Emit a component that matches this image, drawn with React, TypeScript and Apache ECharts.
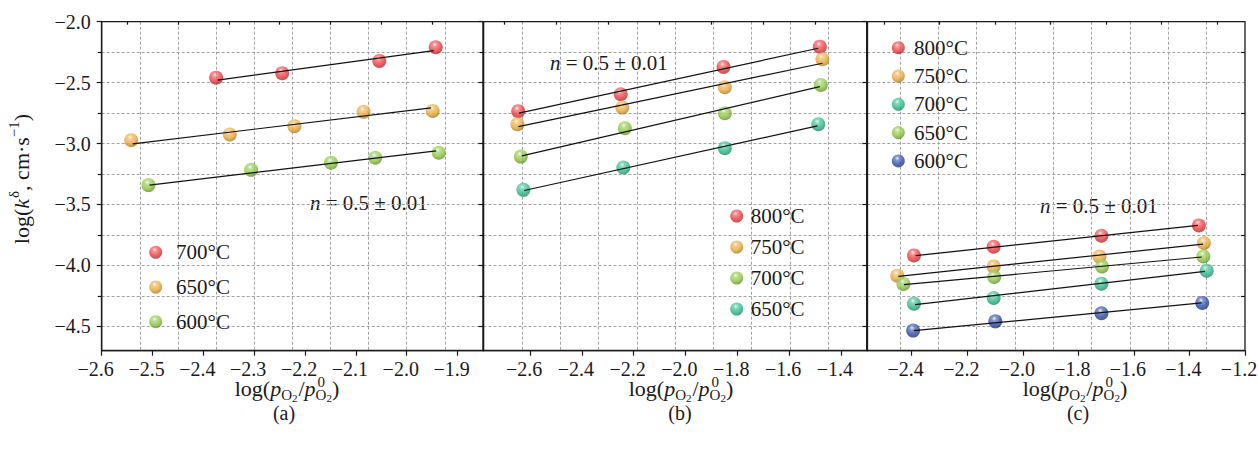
import React, { useEffect, useRef } from 'react';
import * as echarts from 'echarts';

const FONT = 'Liberation Serif, Times New Roman, Times, serif';
const INK = '#1a1a1a';
const GRIDC = '#a3a3a3';

const RED = '#ee3a3e';
const ORANGE = '#eaa838';
const LIME = '#8cc641';
const TEAL = '#2cb98b';
const BLUE = '#2a4ba6';

// ---- tick values ----
const Y_TICKS = [-4.5, -4.0, -3.5, -3.0, -2.5, -2.0];
const Y_MINOR = [-4.25, -3.75, -3.25, -2.75, -2.25];
const XA_TICKS = [-2.6, -2.5, -2.4, -2.3, -2.2, -2.1, -2.0, -1.9];
const XA_MINOR = [-2.55, -2.45, -2.35, -2.25, -2.15, -2.05, -1.95];
const XB_TICKS = [-2.6, -2.4, -2.2, -2.0, -1.8, -1.6, -1.4];
const XB_MINOR = [-2.7, -2.5, -2.3, -2.1, -1.9, -1.7, -1.5];
const XC_TICKS = [-2.4, -2.2, -2.0, -1.8, -1.6, -1.4, -1.2];
const XC_MINOR = [-2.5, -2.3, -2.1, -1.9, -1.7, -1.5, -1.3];

// ---- panel (a) ----
const A_LABELS = ['700°C', '650°C', '600°C'];
const A_700 = [[-2.375, -2.459], [-2.245, -2.423], [-2.054, -2.322], [-1.943, -2.21]];
const A_700_FIT = [[-2.372, -2.48], [-1.947, -2.238]];
const A_650 = [[-2.542, -2.972], [-2.348, -2.926], [-2.221, -2.857], [-2.085, -2.74], [-1.949, -2.732]];
const A_650_FIT = [[-2.539, -3.003], [-1.952, -2.707]];
const A_600 = [[-2.508, -3.341], [-2.306, -3.216], [-2.149, -3.158], [-2.062, -3.117], [-1.937, -3.076]];
const A_600_FIT = [[-2.506, -3.341], [-1.942, -3.06]];

// ---- panel (b) ----
const B_LABELS = ['800°C', '750°C', '700°C', '650°C'];
const B_800 = [[-2.646, -2.734], [-2.25, -2.595], [-1.853, -2.371], [-1.481, -2.205]];
const B_800_FIT = [[-2.643, -2.751], [-1.487, -2.218]];
const B_750 = [[-2.649, -2.841], [-2.244, -2.705], [-1.848, -2.538], [-1.471, -2.308]];
const B_750_FIT = [[-2.645, -2.861], [-1.471, -2.341]];
const B_700 = [[-2.636, -3.107], [-2.234, -2.874], [-1.848, -2.751], [-1.477, -2.519]];
const B_700_FIT = [[-2.632, -3.101], [-1.481, -2.533]];
const B_650 = [[-2.626, -3.38], [-2.24, -3.197], [-1.848, -3.038], [-1.487, -2.841]];
const B_650_FIT = [[-2.623, -3.385], [-1.49, -2.855]];

// ---- panel (c) ----
const C_LABELS = ['800°C', '750°C', '700°C', '650°C', '600°C'];
const C_800 = [[-2.392, -3.918], [-2.105, -3.847], [-1.717, -3.757], [-1.366, -3.672]];
const C_800_FIT = [[-2.386, -3.92], [-1.369, -3.672]];
const C_750 = [[-2.452, -4.084], [-2.105, -4.008], [-1.724, -3.926], [-1.348, -3.816]];
const C_750_FIT = [[-2.448, -4.09], [-1.351, -3.825]];
const C_700 = [[-2.392, -4.314], [-2.105, -4.267], [-1.717, -4.15], [-1.338, -4.043]];
const C_700_FIT = [[-2.388, -4.322], [-1.344, -4.049]];
const C_650 = [[-2.43, -4.152], [-2.103, -4.095], [-1.715, -4.008], [-1.35, -3.926]];
const C_650_FIT = [[-2.428, -4.158], [-1.356, -3.931]];
const C_600 = [[-2.395, -4.535], [-2.099, -4.459], [-1.717, -4.393], [-1.354, -4.308]];
const C_600_FIT = [[-2.392, -4.535], [-1.356, -4.308]];

const N_TEXT = '0.5 ± 0.01';

function shade(hex: string, amt: number) {
  const n = parseInt(hex.slice(1), 16);
  const c = [(n >> 16) & 255, (n >> 8) & 255, n & 255].map((v) =>
    Math.round(amt >= 0 ? v + (255 - v) * amt : v * (1 + amt))
  );
  return 'rgb(' + c.join(',') + ')';
}
function sphere(color: string) {
  return new echarts.graphic.RadialGradient(0.42, 0.3, 0.72, [
    { offset: 0, color: shade(color, 0.9) },
    { offset: 0.22, color: shade(color, 0.3) },
    { offset: 0.6, color: color },
    { offset: 1, color: shade(color, -0.3) },
  ]);
}

let _ctx: CanvasRenderingContext2D | null = null;
function textW(t: string, s: number, it?: boolean) {
  if (!_ctx) _ctx = document.createElement('canvas').getContext('2d');
  _ctx!.font = (it ? 'italic ' : '') + s + 'px ' + FONT;
  return _ctx!.measureText(t).width;
}
type Tok = { t: string; s: number; i?: boolean; dy?: number; stack?: boolean; dx?: number };
function tokenRow(tokens: Tok[]) {
  let x = 0;
  const kids: any[] = [];
  for (const k of tokens) {
    kids.push({
      type: 'text',
      x: x + (k.dx || 0),
      y: (k.dy || 0) - 0.34 * k.s,
      silent: true,
      style: {
        text: k.t,
        fontSize: k.s,
        fontFamily: FONT,
        fontStyle: k.i ? 'italic' : 'normal',
        fill: INK,
        align: 'left',
        verticalAlign: 'middle',
        lineHeight: Math.round(k.s * 0.75),
      },
    });
    if (!k.stack) x += textW(k.t, k.s, k.i) + (k.dx || 0);
  }
  return { kids, w: x };
}

const fmt = (v: number) => {
  const s = Math.abs(v).toFixed(1);
  return (v < -1e-9 ? '\u2212' : '') + s;
};

export default function App() {
  const ref = useRef<HTMLDivElement>(null);
  useEffect(() => {
    if (!ref.current) return;
    const chart = echarts.init(ref.current, null, { renderer: 'svg' });

    const PANELS = [
      {
        left: 101.7, width: 381.3, xMin: -2.6, xMax: -1.85, ticks: XA_TICKS, minor: XA_MINOR,
        gMax: 10, gInv: false,
        sets: [
          { name: 'a0', label: A_LABELS[0], color: RED, pts: A_700, fit: A_700_FIT },
          { name: 'a1', label: A_LABELS[1], color: ORANGE, pts: A_650, fit: A_650_FIT },
          { name: 'a2', label: A_LABELS[2], color: LIME, pts: A_600, fit: A_600_FIT },
        ],
        lg: { left: 149.2, top: 241.8, pad: 8.8, gap: 13.7 },
        nPos: [310, 210], nameCx: 287, tag: '(a)', tagCx: 284,
      },
      {
        left: 483.5, width: 383.2, xMin: -2.78, xMax: -1.3, ticks: XB_TICKS, minor: XB_MINOR,
        gMax: 10, gInv: false,
        sets: [
          { name: 'b0', label: B_LABELS[0], color: RED, pts: B_800, fit: B_800_FIT },
          { name: 'b1', label: B_LABELS[1], color: ORANGE, pts: B_750, fit: B_750_FIT },
          { name: 'b2', label: B_LABELS[2], color: LIME, pts: B_700, fit: B_700_FIT },
          { name: 'b3', label: B_LABELS[3], color: TEAL, pts: B_650, fit: B_650_FIT },
        ],
        lg: { left: 730.2, top: 205.5, pad: 2.5, gap: 10 },
        nPos: [550, 70], nameCx: 681, tag: '(b)', tagCx: 680,
      },
      {
        left: 867.3, width: 377.7, xMin: -2.56, xMax: -1.2, ticks: XC_TICKS, minor: XC_MINOR,
        gMax: 9.85, gInv: true,
        sets: [
          { name: 'c0', label: C_LABELS[0], color: RED, pts: C_800, fit: C_800_FIT },
          { name: 'c1', label: C_LABELS[1], color: ORANGE, pts: C_750, fit: C_750_FIT },
          { name: 'c2', label: C_LABELS[2], color: TEAL, pts: C_700, fit: C_700_FIT },
          { name: 'c3', label: C_LABELS[3], color: LIME, pts: C_650, fit: C_650_FIT },
          { name: 'c4', label: C_LABELS[4], color: BLUE, pts: C_600, fit: C_600_FIT },
        ],
        lg: { left: 891.8, top: 37.2, pad: 4.2, gap: 7.3 },
        nPos: [1040, 212.7], nameCx: 1075, tag: '(c)', tagCx: 1078,
      },
    ];

    const labelOf: Record<string, string> = {};
    PANELS.forEach((p) => p.sets.forEach((s) => (labelOf[s.name] = s.label)));

    const TOP = 21.7;
    const H = 329;
    const line = { color: INK, width: 1.3 };

    const xMain = PANELS.map((p, i) => ({
      type: 'value', gridIndex: i, position: 'bottom', min: p.xMin, max: p.xMax, z: 3,
      axisLine: { show: true, onZero: false, lineStyle: line },
      axisTick: { show: true, inside: false, length: 5, customValues: p.ticks, lineStyle: { color: INK, width: 1.2 } },
      axisLabel: {
        show: true, customValues: p.ticks, margin: 10, fontSize: 20, fontFamily: FONT, color: INK,
        formatter: fmt, padding: [0, 12, 0, 0], lineHeight: 16,
      },
      splitLine: { show: false }, minorTick: { show: false },
    }));
    const xMinor = PANELS.map((p, i) => ({
      type: 'value', gridIndex: i, position: 'bottom', min: p.xMin, max: p.xMax, z: 3,
      axisLine: { show: false },
      axisTick: { show: true, inside: false, length: 3, customValues: p.minor, lineStyle: { color: INK, width: 1.2 } },
      axisLabel: { show: false }, splitLine: { show: false },
    }));
    const xGrid = PANELS.map((p, i) => ({
      type: 'value', gridIndex: i, position: 'top', min: 0, max: p.gMax, inverse: p.gInv, interval: 1, z: 0,
      axisLine: { show: false }, axisTick: { show: false }, axisLabel: { show: false },
      splitLine: { show: true, showMinLine: false, showMaxLine: false, lineStyle: { color: GRIDC, width: 1, type: [3, 2] } },
    }));
    const yMain = PANELS.map((p, i) => ({
      type: 'value', gridIndex: i, position: 'left', min: -4.7, max: -2.0, z: 3,
      axisLine: { show: true, onZero: false, lineStyle: line },
      axisTick: { show: true, inside: false, length: 5, customValues: Y_TICKS, lineStyle: { color: INK, width: 1.2 } },
      axisLabel: { show: i === 0, customValues: Y_TICKS, margin: 11, fontSize: 20, fontFamily: FONT, color: INK, formatter: fmt },
      splitLine: { show: false }, minorTick: { show: false },
    }));
    const yMinor = PANELS.map((p, i) => ({
      type: 'value', gridIndex: i, position: 'left', min: -4.7, max: -2.0, z: 3,
      axisLine: { show: false },
      axisTick: { show: true, inside: false, length: 4, customValues: Y_MINOR, lineStyle: { color: INK, width: 1.2 } },
      axisLabel: { show: false }, splitLine: { show: false },
    }));
    const yGrid = PANELS.map((p, i) => ({
      type: 'value', gridIndex: i, position: 'right', min: 0, max: 10.8, inverse: true, interval: 1, z: 0,
      axisLine: { show: false }, axisTick: { show: false }, axisLabel: { show: false },
      splitLine: { show: true, showMinLine: false, showMaxLine: false, lineStyle: { color: GRIDC, width: 1, type: [3, 2] } },
    }));

    const series: any[] = [];
    PANELS.forEach((p, i) => {
      p.sets.forEach((s) => {
        series.push({
          type: 'scatter', name: s.name, xAxisIndex: i, yAxisIndex: i, data: s.pts,
          symbol: 'circle', symbolSize: 14, itemStyle: { color: sphere(s.color) }, z: 2, silent: true,
        });
      });
      p.sets.forEach((s) => {
        series.push({
          type: 'line', name: s.name + '_fit', xAxisIndex: i, yAxisIndex: i, data: s.fit,
          symbol: 'none', lineStyle: { color: '#111', width: 1.2 }, z: 3, silent: true,
        });
      });
    });

    const legends = PANELS.map((p) => ({
      orient: 'vertical', left: p.lg.left, top: p.lg.top, padding: 0,
      itemWidth: 13, itemHeight: 13, itemGap: p.lg.gap, icon: 'circle', selectedMode: false,
      data: p.sets.map((s) => s.name),
      formatter: (n: string) => labelOf[n] || n,
      textStyle: { fontSize: 21, fontFamily: FONT, color: INK, lineHeight: 21, padding: [0, 0, 0, p.lg.pad] },
    }));

    const graphics: any[] = [];
    // y axis title
    const yt = tokenRow([
      { t: 'log(', s: 22 }, { t: 'k', s: 22, i: true }, { t: 'δ', s: 15, dy: -10, dx: 1 },
      { t: ', cm·s', s: 22 }, { t: '\u22121', s: 15, dy: -10 }, { t: ')', s: 22 },
    ]);
    graphics.push({
      type: 'group', x: 29, y: 179, rotation: Math.PI / 2,
      children: yt.kids.map((k) => ({ ...k, x: k.x - yt.w / 2 })),
    });
    PANELS.forEach((p) => {
      const xn = tokenRow([
        { t: 'log(', s: 22 }, { t: 'p', s: 22, i: true }, { t: 'O', s: 15, dy: 4 }, { t: '2', s: 11, dy: 6 },
        { t: '/', s: 22, dx: 1 }, { t: 'p', s: 22, i: true }, { t: '0', s: 15, dy: -9, stack: true, dx: 2 },
        { t: 'O', s: 15, dy: 4 }, { t: '2', s: 11, dy: 6 }, { t: ')', s: 22 },
      ]);
      graphics.push({ type: 'group', x: p.nameCx - xn.w / 2, y: 396, children: xn.kids });
      const tg = tokenRow([{ t: p.tag, s: 20 }]);
      graphics.push({ type: 'group', x: p.tagCx - tg.w / 2, y: 420, children: tg.kids });
      const nt = tokenRow([{ t: 'n', s: 21, i: true }, { t: ' = ' + N_TEXT, s: 21 }]);
      graphics.push({ type: 'group', x: p.nPos[0], y: p.nPos[1], children: nt.kids });
    });

    chart.setOption({
      animation: false,
      backgroundColor: '#ffffff',
      grid: PANELS.map((p) => ({
        left: p.left, top: TOP, width: p.width, height: H, show: true, z: 2,
        borderColor: INK, borderWidth: 1.3, backgroundColor: 'transparent',
        containLabel: false, outerBoundsMode: 'none',
      })),
      xAxis: [...xMain, ...xMinor, ...xGrid],
      yAxis: [...yMain, ...yMinor, ...yGrid],
      legend: legends,
      series,
      graphic: graphics,
    } as any);

    return () => chart.dispose();
  }, []);
  return (
    <div
      ref={ref}
      style={{ position: 'absolute', left: 0, top: 0, width: 1258, height: 450, background: '#fff' }}
    />
  );
}
